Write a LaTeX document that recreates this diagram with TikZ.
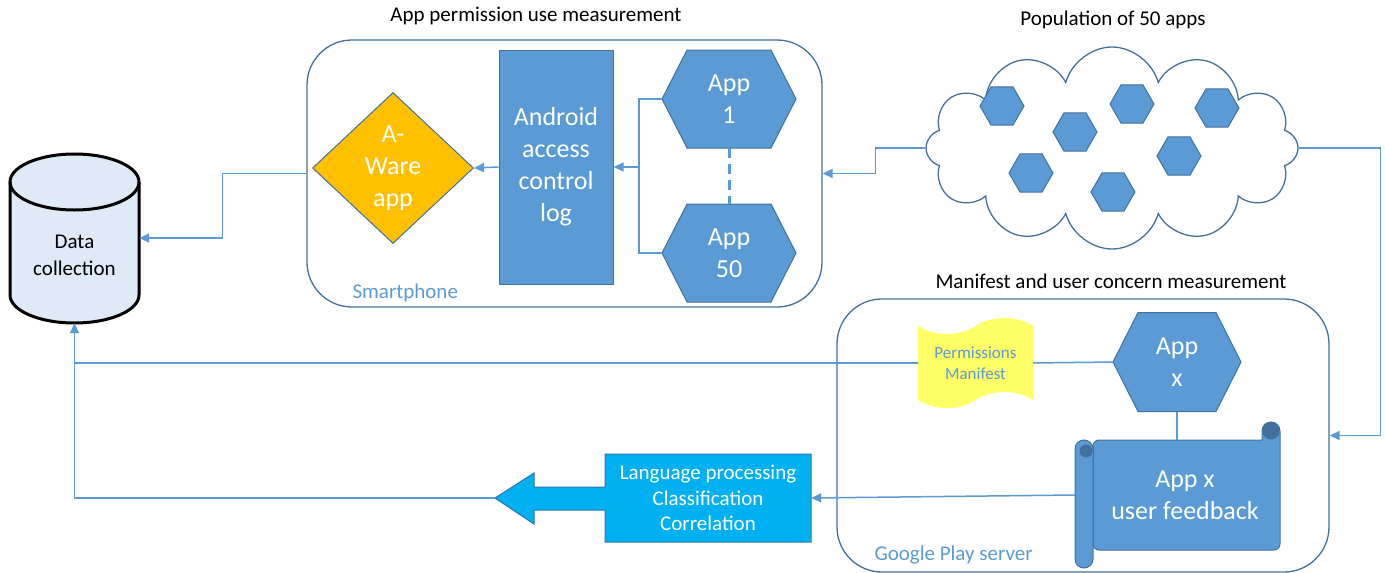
\documentclass[tikz,border=0pt]{standalone}
\usepackage{fontspec}
\setmainfont{Carlito}
\usetikzlibrary{shapes.geometric,shapes.symbols,arrows.meta}

\definecolor{lineblue}{HTML}{5B9BD5}
\definecolor{edgeblue}{HTML}{41719C}
\definecolor{appblue}{HTML}{5B9BD5}
\definecolor{cylblue}{HTML}{DEEBF7}
\definecolor{awareyellow}{HTML}{FFC000}
\definecolor{tapeyellow}{HTML}{FFFF66}
\definecolor{langblue}{HTML}{00B0F0}
\definecolor{langedge}{HTML}{2E75B6}

\tikzset{
	conn/.style={draw=lineblue, line width=1.5pt, -{Triangle[length=10pt,width=9pt]}},
	wire/.style={draw=lineblue, line width=1.5pt},
	container/.style={draw=edgeblue, line width=1.3pt, rounded corners=45pt, inner sep=0pt},
	hexfill/.style={fill=appblue, draw=edgeblue, line width=1pt},
	bigtext/.style={text=white, align=center, font=\fontsize{26}{32}\selectfont},
	title/.style={font=\fontsize{21}{25}\selectfont},
	boxlabel/.style={text=lineblue, anchor=west, font=\fontsize{21}{25}\selectfont},
}

% hexagon: name, x, y, half width, half height, then {text};
\newcommand{\apphex}[5]{%
	\filldraw[hexfill] (#2-#4,#3) -- (#2-#4+25,#3-#5) -- (#2+#4-25,#3-#5) -- (#2+#4,#3)
		-- (#2+#4-25,#3+#5) -- (#2-#4+25,#3+#5) -- cycle;
	\node[bigtext, minimum width=2*#4, minimum height=2*#5, inner sep=0pt] (#1) at (#2,#3)}

\begin{document}
\begin{tikzpicture}[x=1pt, y=-1pt]
		\useasboundingbox (0,0) rectangle (1385,573);

		% data collection
		\filldraw[fill=cylblue, draw=black, line width=3pt] (10,182) -- (10,295)
			arc[start angle=180, end angle=360, x radius=64.5pt, y radius=28pt] -- (139,182)
			arc[start angle=0, end angle=180, x radius=64.5pt, y radius=28pt] -- cycle;
		\draw[line width=3pt] (10,182) arc[start angle=180, end angle=360, x radius=64.5pt, y radius=28pt];
		\node[minimum width=129pt, minimum height=170pt, inner sep=0pt] (dc) at (74.5,238) {};
		\node[align=center, font=\fontsize{21}{27}\selectfont] (dctext) at (74.5,255) {Data\\collection};

		% smartphone
		\node[container, minimum width=515pt, minimum height=267pt] (phone) at (564.5,173.5) {};
		\node[title] (phonetitle) at (536,16) {App permission use measurement};
		\node[boxlabel] (phonelabel) at (349,293) {Smartphone};
		\node[diamond, fill=awareyellow, draw=edgeblue, line width=1pt, minimum width=161pt,
			minimum height=151pt, inner sep=0pt, bigtext] (aware) at (393,168) {A-\\Ware\\app};
		\node[fill=appblue, draw=edgeblue, line width=1pt, minimum width=114pt,
			minimum height=234pt, bigtext] (android) at (556,167) {Android\\access\\control\\log};
		\apphex{app1}{729}{99}{67}{49} {App\\1};
		\apphex{app50}{729}{253}{67}{49} {App\\50};
		\draw[lineblue, line width=3pt, dash pattern=on 10pt off 6pt] (app1.south) -- (app50.north);

		% cloud of apps
		\node[cloud, cloud puffs=12, aspect=1.9, draw=edgeblue, line width=1.3pt,
			minimum width=372pt, minimum height=202pt] (cloud) at (1112,148) {};
		\node[title] (cloudtitle) at (1113,20) {Population of 50 apps};
		\foreach \x/\y in {1002/106, 1075/132, 1132/104, 1217/108, 1179/156, 1031/173, 1113/192}
			\node[regular polygon, regular polygon sides=6, minimum size=44pt, inner sep=0pt, hexfill] (h\x) at (\x,\y) {};

		% google play server
		\node[container, minimum width=492pt, minimum height=273pt] (gplay) at (1083,435.5) {};
		\node[title] (gplaytitle) at (1111,281) {Manifest and user concern measurement};
		\node[boxlabel] (gplaylabel) at (871,555) {Google Play server};
		\node[tape, fill=tapeyellow, minimum width=115pt, minimum height=90pt, tape bend height=16pt,
			text=lineblue, align=center, font=\fontsize{17}{21}\selectfont] (manifest) at (975.5,363) {Permissions\\Manifest};
		\apphex{appx}{1177}{362}{64}{49.5} {App\\x};

		% scroll
		\filldraw[hexfill] (1093,440) -- (1262,440) -- (1262,431)
			arc[start angle=180, end angle=0, radius=9pt] -- (1280,544) [rounded corners=6pt] -- (1280,550) -- (1093,550) -- cycle;
		\filldraw[fill=edgeblue, draw=edgeblue, line width=1pt] (1271,431) circle[radius=8pt];
		\filldraw[hexfill] (1075,449) -- (1075,559)
			arc[start angle=180, end angle=360, radius=9pt] -- (1093,449)
			arc[start angle=0, end angle=180, radius=9pt] -- cycle;
		\filldraw[fill=edgeblue, draw=edgeblue, line width=1pt] (1086,451) circle[radius=6pt];
		\node[bigtext, minimum width=190pt, minimum height=110pt, inner sep=0pt] (feedback) at (1185,495) {App x\\user feedback};

		% processing
		\filldraw[fill=langblue, draw=langedge, line width=1pt] (811,454) -- (811,542) -- (605,542) -- (605,510)
			-- (534,510) -- (534,524) -- (495,498) -- (534,473) -- (534,487) -- (605,487) -- (605,454) -- cycle;
		\coordinate (langtip) at (495,498);
		\node[text=white, align=center, font=\fontsize{21}{25.5}\selectfont, minimum width=206pt,
			minimum height=88pt, inner sep=0pt] (lang) at (708,498) {Language processing\\Classification\\Correlation};

		% connessioni
		\draw[conn] (cloud.west) -- ++(-50,0) |- (phone.east);
		\draw[conn] (cloud.east) -- ++(82,0) |- (gplay.east);
		\draw[conn] (phone.west) -- ++(-84,0) |- (dc.east);
		\coordinate (fork) at ([xshift=-23pt]app1.west);
		\draw[wire] (app1.west) -- (fork) |- (app50.west);
		\draw[conn] (fork |- android.east) -- (android.east);
		\draw[conn] (android.west) -- (aware.east);
		\draw[wire] (appx.west) -- (manifest.east);
		\draw[wire] (manifest.west) -- (manifest.west -| dc.south);
		\draw[wire] (appx.south) -- (appx.south |- feedback.north);
		\draw[conn] ([xshift=-15pt]feedback.west) -- (lang.east);
		\draw[conn] (langtip) -- (langtip -| dc.south) -- (dc.south);
	\end{tikzpicture}
\end{document}
